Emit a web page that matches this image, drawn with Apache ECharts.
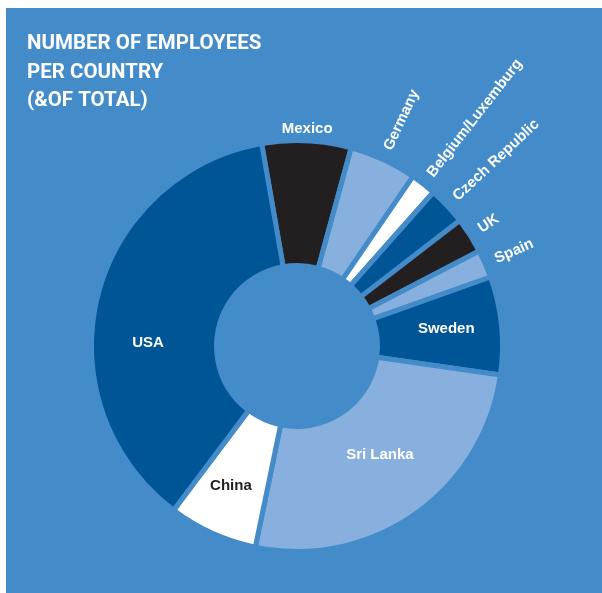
<!DOCTYPE html>
<html>
<head>
<meta charset="utf-8">
<script src="https://cdn.jsdelivr.net/npm/echarts@6/dist/echarts.min.js"></script>
<style>
  html, body { margin: 0; padding: 0; background: #ffffff; width: 602px; height: 593px; overflow: hidden; }
  #chart { position: absolute; left: 6px; top: 8px; width: 596px; height: 585px; background: #438cc9; }
</style>
</head>
<body>
<div id="chart"></div>
<script>
// Share of employees per country (% of total), clockwise from the top
const countries = ['Mexico', 'Germany', 'Belgium/Luxemburg', 'Czech Republic', 'UK', 'Spain', 'Sweden', 'Sri Lanka', 'China', 'USA'];
const shares = [7, 5.3, 2, 3, 2.8, 2.2, 7.7, 26, 7, 37];
const titleLines = ['NUMBER OF EMPLOYEES', 'PER COUNTRY', '(&OF TOTAL)'];

const BG = '#438cc9';
const DARK = '#005596';
const BLACK = '#231f20';
const LIGHT = '#87b0de';
const WHITE = '#ffffff';
const FONT = '"Liberation Sans", Arial, sans-serif';
const TITLE_FONT = 'Roboto, "Liberation Sans", sans-serif';

const sliceColor = {
  'Mexico': BLACK, 'Germany': LIGHT, 'Belgium/Luxemburg': WHITE, 'Czech Republic': DARK,
  'UK': BLACK, 'Spain': LIGHT, 'Sweden': DARK, 'Sri Lanka': LIGHT, 'China': WHITE, 'USA': DARK
};
const insideNames = ['Sweden', 'Sri Lanka', 'China', 'USA'];

// small nudges for the label anchors
const labelNudge = {
  'USA': { dx: -7, dy: 31 },
  'China': { dx: -6, dy: 7 },
  'Sri Lanka': { dx: -1, dy: -11 },
  'Sweden': { dx: 4, dy: -2 },
  'Mexico': { dx: 0, dy: -1, align: 'center' }
};

const pieData = countries.map((name, i) => {
  const inside = insideNames.includes(name);
  return {
    name: name,
    value: shares[i],
    itemStyle: { color: sliceColor[name] },
    label: inside
      ? { position: 'inside', rotate: 0, color: name === 'China' ? BLACK : WHITE }
      : { position: 'outside', rotate: name === 'Mexico' ? 0 : 'radial', color: WHITE }
  };
});

const chart = echarts.init(document.getElementById('chart'), null, { renderer: 'canvas' });
chart.setOption({
  backgroundColor: BG,
  animation: false,
  title: {
    text: titleLines.join('\n'),
    left: 16,
    top: 17,
    padding: 5,
    textStyle: { color: WHITE, fontFamily: TITLE_FONT, fontWeight: 'bold', fontSize: 20.5, lineHeight: 28.5 }
  },
  series: [{
    type: 'pie',
    center: [291, 338],
    radius: [80.5, 205.5],
    startAngle: 99.9,
    clockwise: true,
    avoidLabelOverlap: false,
    itemStyle: { borderColor: BG, borderWidth: 5 },
    label: {
      show: true,
      formatter: '{b}',
      fontFamily: FONT,
      fontWeight: 'bold',
      fontSize: 15,
      distanceToLabelLine: 0
    },
    labelLine: { show: false, length: 11, length2: 0 },
    emphasis: { disabled: true },
    labelLayout: function (params) {
      const n = labelNudge[countries[params.dataIndex]];
      return n ? Object.assign({}, n) : {};
    },
    data: pieData
  }]
});
</script>
</body>
</html>
